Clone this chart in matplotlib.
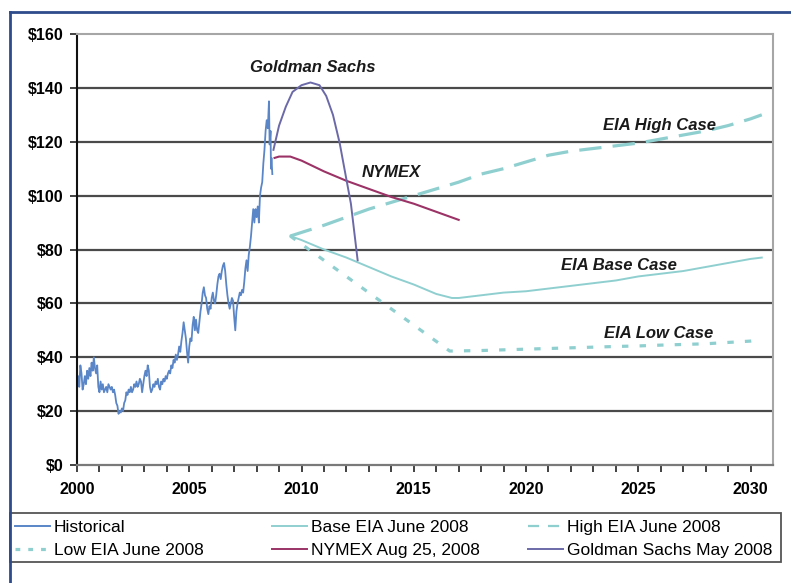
import matplotlib
matplotlib.use("Agg")
import matplotlib.pyplot as plt
from matplotlib.lines import Line2D
from matplotlib.patches import Rectangle
from matplotlib.ticker import FixedLocator, FuncFormatter

## historical price (roughly every few weeks)
hist_years = [2000.00, 2000.05, 2000.10, 2000.15, 2000.20, 2000.25, 2000.30, 2000.35, 2000.40, 2000.45,
              2000.50, 2000.55, 2000.60, 2000.65, 2000.70, 2000.75, 2000.80, 2000.85, 2000.90, 2000.95,
              2001.00, 2001.05, 2001.10, 2001.15, 2001.20, 2001.30, 2001.35, 2001.40, 2001.50, 2001.55,
              2001.60, 2001.65, 2001.70, 2001.75, 2001.80, 2001.85, 2001.90, 2001.95, 2002.00, 2002.05,
              2002.10, 2002.15, 2002.20, 2002.25, 2002.30, 2002.35, 2002.40, 2002.45, 2002.50, 2002.55,
              2002.60, 2002.65, 2002.70, 2002.75, 2002.80, 2002.85, 2002.90, 2002.95, 2003.00, 2003.05,
              2003.10, 2003.15, 2003.20, 2003.25, 2003.30, 2003.35, 2003.40, 2003.45, 2003.50, 2003.55,
              2003.60, 2003.65, 2003.70, 2003.75, 2003.80, 2003.85, 2003.90, 2003.95, 2004.00, 2004.05,
              2004.10, 2004.15, 2004.20, 2004.25, 2004.30, 2004.35, 2004.40, 2004.45, 2004.50, 2004.55,
              2004.60, 2004.65, 2004.70, 2004.75, 2004.80, 2004.85, 2004.90, 2004.95, 2005.00, 2005.05,
              2005.10, 2005.15, 2005.20, 2005.25, 2005.30, 2005.35, 2005.40, 2005.45, 2005.50, 2005.55,
              2005.60, 2005.65, 2005.70, 2005.75, 2005.80, 2005.85, 2005.90, 2005.95, 2006.00, 2006.05,
              2006.10, 2006.15, 2006.20, 2006.25, 2006.30, 2006.35, 2006.40, 2006.45, 2006.50, 2006.55,
              2006.60, 2006.65, 2006.70, 2006.75, 2006.80, 2006.85, 2006.90, 2006.95, 2007.00, 2007.05,
              2007.10, 2007.15, 2007.20, 2007.25, 2007.30, 2007.35, 2007.40, 2007.45, 2007.50, 2007.55,
              2007.60, 2007.65, 2007.70, 2007.75, 2007.80, 2007.85, 2007.90, 2007.95, 2008.00, 2008.05,
              2008.10, 2008.15, 2008.20, 2008.25, 2008.30, 2008.35, 2008.40, 2008.45, 2008.50, 2008.55,
              2008.58, 2008.62, 2008.64, 2008.66, 2008.70]
hist_price = [30, 33, 29, 37, 34, 28, 30, 33, 30, 35,
              32, 36, 33, 38, 35, 40, 36, 34, 37, 29,
              27, 31, 28, 30, 27, 29, 27, 30, 28, 29,
              27, 28, 26, 23, 22, 19, 20, 19.5, 21, 20,
              23, 24, 27, 26, 28, 27, 29, 27, 28, 30,
              29, 31, 29, 30, 32, 31, 27, 30, 33, 35,
              33, 37, 35, 29, 27, 28, 30, 29, 31, 30,
              32, 29, 28, 31, 30, 32, 31, 33, 32, 34,
              35, 34, 37, 36, 39, 38, 41, 39, 41, 44,
              42, 46, 49, 53, 50, 47, 42, 38, 44, 47,
              46, 52, 55, 50, 54, 50, 49, 53, 57, 60,
              64, 66, 63, 62, 58, 56, 59, 58, 62, 64,
              61, 60, 63, 67, 70, 71, 69, 72, 74, 75,
              72, 67, 63, 60, 58, 60, 62, 61, 55, 50,
              57, 60, 62, 64, 63, 65, 64, 68, 73, 76,
              72, 78, 81, 85, 90, 95, 90, 95, 92, 96,
              90, 100, 103, 105, 112, 117, 124, 128, 125, 135,
              119, 124, 110, 114, 108]

## EIA June 2008 cases
base_years = [2009.5, 2010, 2011, 2012, 2013, 2014, 2015, 2016, 2016.7, 2017, 2018, 2019, 2020,
              2021, 2022, 2023, 2024, 2025, 2026, 2027, 2028, 2029, 2030, 2030.5]
base_price = [85, 83.5, 80, 77, 73.5, 70, 67, 63.5, 62, 62, 63, 64, 64.5,
              65.5, 66.5, 67.5, 68.5, 70, 71, 72, 73.5, 75, 76.5, 77]

high_years = [2009.5, 2011, 2012, 2013, 2014, 2015, 2016, 2017, 2018, 2019, 2020, 2021, 2022,
              2023, 2024, 2025, 2026, 2027, 2028, 2029, 2030, 2030.5]
high_price = [85, 89, 92, 95, 97.5, 100, 102.5, 105, 108, 110, 112.5, 115, 116.5,
              117.5, 118.5, 119.5, 121, 122.5, 124, 126, 128.5, 130]

low_years = [2009.5, 2016.6, 2018, 2020, 2022, 2024, 2025, 2026, 2028, 2030, 2030.5]
low_price = [85, 42.3, 42.5, 43, 43.5, 44, 44.2, 44.5, 45, 46, 46.5]

## NYMEX futures Aug 25, 2008
nymex_years = [2008.8, 2009.0, 2009.5, 2010, 2011, 2012, 2013, 2014, 2015, 2016, 2017]
nymex_price = [114, 114.5, 114.5, 113, 109, 105.5, 102.5, 99.5, 97, 94, 91]

## Goldman Sachs May 2008
gs_years = [2008.75, 2009.0, 2009.3, 2009.6, 2010.0, 2010.4, 2010.8, 2011.1, 2011.4, 2011.7,
            2012.0, 2012.2, 2012.5]
gs_price = [117, 126, 133, 138.5, 141, 142, 141, 137, 130, 119.5, 106, 97, 76]

## legend, laid out row by row as in the picture
legend_rows = [["Historical", "Base EIA June 2008", "High EIA June 2008"],
               ["Low EIA June 2008", "NYMEX Aug 25, 2008", "Goldman Sachs May 2008"]]

## text on the chart: (label, year, price)
notes = [("Goldman Sachs", 2010.5, 147.5), ("NYMEX", 2014.0, 108.5),
         ("EIA High Case", 2025.95, 126.2), ("EIA Base Case", 2024.15, 74.2),
         ("EIA Low Case", 2025.9, 49)]

plt.rcParams['font.family'] = ['Liberation Sans', 'DejaVu Sans']

c_hist = '#5a86c8'
c_eia = '#8fcfd0'
c_nymex = '#9b3366'
c_gs = '#6b69a8'

fig = plt.figure(figsize=(7.91, 5.83), dpi=100)
ax = fig.add_axes([77/791, 1-465/583, (773-77)/791, (465-34)/583])

ax.plot(hist_years, hist_price, color=c_hist, lw=1.3)
ax.plot(base_years, base_price, color=c_eia, lw=1.4)
ax.plot(high_years, high_price, color=c_eia, lw=2.3, dashes=(7, 3.5))
ax.plot(low_years, low_price, color=c_eia, lw=2.3, dashes=(2, 3.5))
ax.plot(nymex_years, nymex_price, color=c_nymex, lw=1.5)
ax.plot(gs_years, gs_price, color=c_gs, lw=1.4)

for txt, xx, yy in notes:
    ax.text(xx, yy, txt, ha='center', va='center', fontsize=12,
            fontweight='bold', fontstyle='italic', color='#1a1a1a')

ax.set_xlim(2000, 2031)
ax.set_ylim(0, 160)
ax.xaxis.set_major_locator(FixedLocator(range(2000, 2031)))
ax.xaxis.set_major_formatter(FuncFormatter(lambda v, p: str(int(v)) if int(v) % 5 == 0 else ""))
ax.yaxis.set_major_locator(FixedLocator(range(0, 161, 20)))
ax.yaxis.set_major_formatter(FuncFormatter(lambda v, p: "$%d" % v))
ax.tick_params(axis='x', length=5, width=1.2, pad=7, labelsize=11.5, color='#222222')
ax.tick_params(axis='y', length=5, width=1.2, pad=5, labelsize=11.5, color='#222222')
for lab in ax.get_xticklabels() + ax.get_yticklabels():
    lab.set_fontweight('bold')

for v in range(20, 160, 20):
    ax.axhline(v, color='#4a4a4a', lw=1.6, zorder=0)
ax.spines['left'].set_color('#111111')
ax.spines['left'].set_linewidth(1.5)
ax.spines['bottom'].set_color('#7a7a7a')
ax.spines['bottom'].set_linewidth(1.6)
ax.spines['top'].set_color('#a6a6a6')
ax.spines['top'].set_linewidth(1.5)
ax.spines['right'].set_color('#a6a6a6')
ax.spines['right'].set_linewidth(1.5)

## blue frame round the chart (cut off on the right and bottom)
bx, by = 10/791, 1-12/583
fig.add_artist(Line2D([bx, 1.0], [by, by], color='#2e4b8c', lw=2))
fig.add_artist(Line2D([bx, bx], [0, by], color='#2e4b8c', lw=2))

## legend box, then one small legend per column
fig.add_artist(Rectangle((10/791, 1-562/583), 771/791, 49/583, transform=fig.transFigure,
                         fill=False, edgecolor='#555555', lw=1.3))
handle_of = {
    "Historical": Line2D([], [], color=c_hist, lw=1.4),
    "Base EIA June 2008": Line2D([], [], color=c_eia, lw=1.4),
    "High EIA June 2008": Line2D([], [], color=c_eia, lw=1.6, dashes=(5, 4)),
    "Low EIA June 2008": Line2D([], [], color=c_eia, lw=2.3, dashes=(1.5, 2.5)),
    "NYMEX Aug 25, 2008": Line2D([], [], color=c_nymex, lw=1.4),
    "Goldman Sachs May 2008": Line2D([], [], color=c_gs, lw=1.4),
}
col_x = [15, 272, 528]
for i, x0 in enumerate(col_x):
    labels = [row[i] for row in legend_rows]
    fig.legend([handle_of[l] for l in labels], labels, loc='upper left',
               bbox_to_anchor=(x0/791, 1-520/583), frameon=False,
               fontsize=12.5, handlelength=2.0, handletextpad=0.25,
               labelspacing=0.42, borderaxespad=0, borderpad=0)

fig.savefig('out.png', dpi=100)
